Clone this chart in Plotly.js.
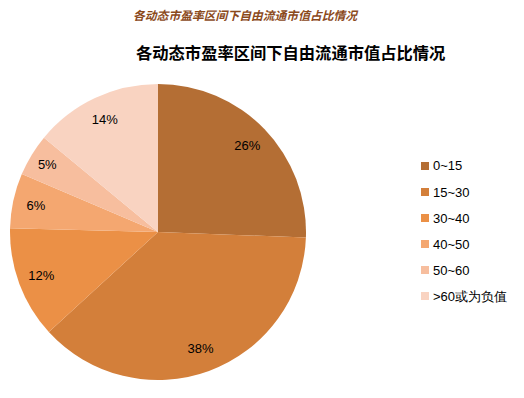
<!DOCTYPE html>
<html><head><meta charset="utf-8">
<script src="https://cdn.plot.ly/plotly-3.0.1.min.js"></script>
<style>body{margin:0;background:#fff}#chart{width:524px;height:398px}</style>
</head><body><div id="chart"></div>
<script>
const categories = ["0~15", "15~30", "30~40", "40~50", "50~60", ">60或为负值"];
const shares = [25.6, 37.6, 12.2, 6.0, 4.6, 14.0];
const colors = ["#B46E34", "#D37F3A", "#EB9046", "#F4A770", "#F7BE9E", "#F9D3C1"];
const topTitle = "各动态市盈率区间下自由流通市值占比情况";
const mainTitle = "各动态市盈率区间下自由流通市值占比情况";

const W = 524, H = 398;
const legendX = 421, legendY0 = 166, legendStep = 26;
const shapes = [], annotations = [];
categories.forEach((c, i) => {
  const y = legendY0 + i * legendStep;
  shapes.push({type: "rect", xref: "paper", yref: "paper",
    x0: legendX / W, x1: (legendX + 8) / W,
    y0: 1 - (y + 4) / H, y1: 1 - (y - 4) / H,
    fillcolor: colors[i], line: {width: 0}});
  annotations.push({xref: "paper", yref: "paper", x: (legendX + 10) / W, y: 1 - y / H,
    xanchor: "left", yanchor: "middle", showarrow: false, text: c,
    font: {family: "Liberation Sans, Arial, sans-serif", size: 13, color: "#000"}});
});
annotations.push({xref: "paper", yref: "paper", x: 246 / W, y: 1 - 15 / H,
  xanchor: "center", yanchor: "middle", showarrow: false,
  text: "<b><i>" + topTitle + "</i></b>",
  font: {family: "Noto Sans CJK SC, sans-serif", size: 11.8, color: "#8B4A1C"}});
annotations.push({xref: "paper", yref: "paper", x: 290 / W, y: 1 - 52 / H,
  xanchor: "center", yanchor: "middle", showarrow: false,
  text: "<b>" + mainTitle + "</b>",
  font: {family: "Noto Sans CJK SC, sans-serif", size: 16.3, color: "#000"}});

const pieDomain = {x: [10 / W, 306 / W], y: [1 - 380 / H, 1 - 84 / H]};
const data = [{
  type: "pie", labels: categories, values: shares, sort: false,
  direction: "clockwise", rotation: 0,
  marker: {colors: colors, line: {width: 0}},
  textinfo: "none", domain: pieDomain,
  hoverinfo: "label+percent", showlegend: false
}, {
  type: "pie", labels: categories, values: shares, sort: false,
  direction: "clockwise", rotation: 0, hole: 0.68,
  marker: {colors: categories.map(() => "rgba(0,0,0,0)"), line: {width: 0}},
  textinfo: "percent", texttemplate: "%{percent:.0%}",
  textposition: "inside", insidetextorientation: "horizontal",
  textfont: {family: "Liberation Sans, Arial, sans-serif", size: 13, color: "#000"},
  domain: pieDomain, hoverinfo: "skip", showlegend: false
}];
const layout = {
  width: W, height: H, margin: {l: 0, r: 0, t: 0, b: 0},
  paper_bgcolor: "#fff", showlegend: false,
  shapes: shapes, annotations: annotations
};
Plotly.newPlot("chart", data, layout, {displayModeBar: false, staticPlot: true});
</script></body></html>
